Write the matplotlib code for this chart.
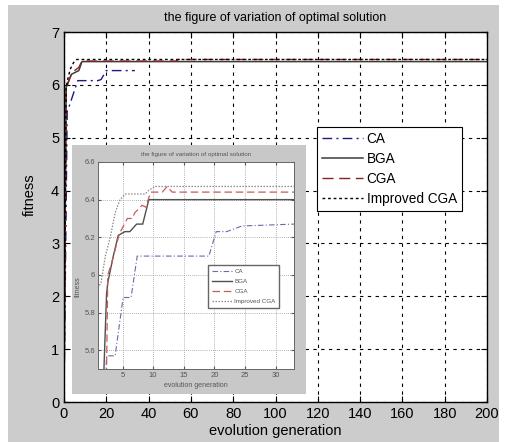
import matplotlib
matplotlib.use("Agg")
import matplotlib.pyplot as plt
from matplotlib.patches import Rectangle

plt.rcParams['font.family'] = ['Liberation Sans Narrow', 'Liberation Sans', 'DejaVu Sans']

# main plot data (generation, fitness) break points
ca_x = [0, 1.5, 2.5, 5, 6.5, 16, 17.5, 20, 33.5]
ca_y = [0, 5.5, 5.6, 5.9, 6.08, 6.08, 6.1, 6.27, 6.27]
bga_x = [0, 1, 2, 3.5, 5, 7, 8.5, 200]
bga_y = [0, 5.95, 6.05, 6.2, 6.23, 6.27, 6.44, 6.44]
cga_x = [0, 1, 2, 3.5, 5, 7, 8.5, 53, 54, 200]
cga_y = [0, 5.9, 6.05, 6.2, 6.27, 6.33, 6.45, 6.45, 6.48, 6.48]
imp_x = [0, 1, 2, 3, 4.5, 6, 200]
imp_y = [0, 5.95, 6.15, 6.3, 6.42, 6.48, 6.48]

# inset data
ica_x = [1, 2.4, 3.8, 5.1, 6.4, 7.4, 19.1, 20.3, 22, 24.5, 33]
ica_y = [4.5, 5.57, 5.57, 5.88, 5.88, 6.1, 6.1, 6.23, 6.23, 6.26, 6.27]
ibga_x = [1.0, 2.4, 2.6, 3.5, 4.3, 5.4, 6.2, 7.3, 8.3, 9.3, 33]
ibga_y = [4.6, 5.9, 5.96, 6.1, 6.21, 6.23, 6.23, 6.27, 6.27, 6.40, 6.40]
icga_x = [1, 2.4, 2.6, 3.2, 4.5, 5.8, 6.6, 7.0, 8.2, 8.8, 9.6, 11.5, 12.3, 13.1, 33]
icga_y = [4.5, 5.5, 6.0, 6.06, 6.22, 6.30, 6.30, 6.33, 6.37, 6.36, 6.44, 6.44, 6.47, 6.44, 6.44]
iimp_x = [1, 1.5, 2.2, 3.0, 3.8, 4.6, 5.5, 8.7, 9.3, 10.3, 33]
iimp_y = [5.93, 5.96, 6.1, 6.2, 6.33, 6.4, 6.43, 6.43, 6.45, 6.47, 6.47]

labels = ['CA', 'BGA', 'CGA', 'Improved CGA']
title = 'the figure of variation of optimal solution'

W, H = 521, 442
fig = plt.figure(figsize=(W / 100, H / 100), dpi=100, facecolor='white')
fig.patches.append(Rectangle((8 / W, 0), 491 / W, 437 / H, transform=fig.transFigure,
                             facecolor='#cccccc', edgecolor='none', zorder=-5))

ax = fig.add_axes([64 / W, 40 / H, 423 / W, 370 / H])
ax.plot(ca_x, ca_y, color='#1a1a80', ls=(0, (7, 3, 1.5, 3)), lw=1, label=labels[0])
ax.plot(bga_x, bga_y, color='#3c3c3c', ls='-', lw=1.1, label=labels[1])
ax.plot(cga_x, cga_y, color='#8b2222', ls=(0, (8, 4)), lw=1, label=labels[2])
ax.plot(imp_x, imp_y, color='black', ls=(0, (2, 2)), lw=1, label=labels[3])
ax.set_xlim(0, 200)
ax.set_ylim(0, 7)
ax.set_xticks(range(0, 201, 20))
ax.set_yticks(range(0, 8))
ax.grid(True, color='black', ls=(0, (3, 4)), lw=0.8)
ax.tick_params(direction='in', length=4, labelsize=10.5, top=True, right=True)
ax.set_title(title, fontsize=9, pad=8)
ax.set_xlabel('evolution generation', fontsize=10.5, labelpad=2)
ax.set_ylabel('fitness', fontsize=10.5)
ax.yaxis.set_label_coords(-0.065, 0.56)
for s in ax.spines.values():
    s.set_linewidth(1)
leg = ax.legend(loc='upper left', bbox_to_anchor=(0.598, 0.743), fontsize=9.8,
                fancybox=False, edgecolor='black', framealpha=1, handlelength=3.0,
                handletextpad=0.3, labelspacing=0.45, borderpad=0.35, borderaxespad=0)
leg.get_frame().set_linewidth(0.8)

# inset picture
fig.patches.append(Rectangle((72 / W, 48 / H), 234 / W, 249 / H, transform=fig.transFigure,
                             facecolor='#c8c8c8', edgecolor='none', zorder=1))
ins = fig.add_axes([98 / W, 73 / H, 196 / W, 207 / H], zorder=2)
ins.plot(ica_x, ica_y, color='#6a6aa8', ls=(0, (5, 2, 1, 2)), lw=0.8, label=labels[0])
ins.plot(ibga_x, ibga_y, color='#505050', ls='-', lw=1, label=labels[1])
ins.plot(icga_x, icga_y, color='#c85a5a', ls=(0, (6, 3)), lw=0.9, label=labels[2])
ins.plot(iimp_x, iimp_y, color='#8a8a8a', ls=(0, (1.2, 1.2)), lw=0.9, label=labels[3])
ins.set_xlim(1, 33)
ins.set_ylim(5.5, 6.6)
ins.set_xticks(range(5, 31, 5))
ins.set_yticks([5.6, 5.8, 6.0, 6.2, 6.4, 6.6])
ins.set_yticklabels(['5.6', '5.8', '6', '6.2', '6.4', '6.6'])
ins.grid(True, color='#999999', ls=(0, (1, 1.5)), lw=0.6)
ins.tick_params(direction='in', length=2, labelsize=5.5, pad=2, colors='#555555',
                top=True, right=True)
ins.set_title(title, fontsize=4.5, pad=4, color='#555555')
ins.set_xlabel('evolution generation', fontsize=5, labelpad=2, color='#555555')
ins.set_ylabel('fitness', fontsize=5, color='#555555')
ins.yaxis.set_label_coords(-0.08, 0.4)
for s in ins.spines.values():
    s.set_color('#666666')
    s.set_linewidth(0.7)
ileg = ins.legend(loc='upper left', bbox_to_anchor=(0.561, 0.502), fontsize=4.5,
                  fancybox=False, edgecolor='#666666', framealpha=1, handlelength=3.2,
                  handletextpad=0.4, labelspacing=0.75, borderpad=0.6, borderaxespad=0)
for t in ileg.get_texts():
    t.set_color('#555555')

fig.savefig('out.png', dpi=100, facecolor=fig.get_facecolor())
